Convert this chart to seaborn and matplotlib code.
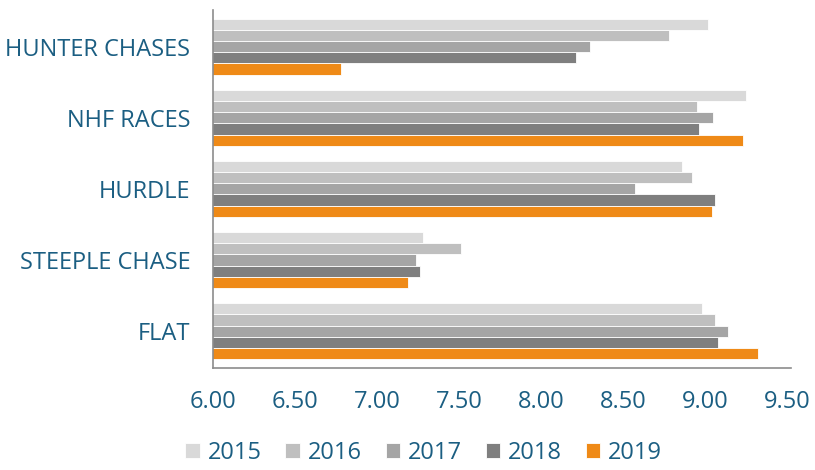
import matplotlib
matplotlib.use("Agg")
import matplotlib.pyplot as plt
import seaborn as sns
import pandas as pd

# データ
categories = ["HUNTER CHASES", "NHF RACES", "HURDLE", "STEEPLE CHASE", "FLAT"]
years = ["2015", "2016", "2017", "2018", "2019"]
values_2015 = [9.02, 9.25, 8.86, 7.28, 8.98]
values_2016 = [8.78, 8.95, 8.92, 7.51, 9.06]
values_2017 = [8.30, 9.05, 8.57, 7.24, 9.14]
values_2018 = [8.21, 8.96, 9.06, 7.26, 9.08]
values_2019 = [6.78, 9.23, 9.04, 7.19, 9.32]
colors = ["#d9d9d9", "#bfbfbf", "#a5a5a5", "#7f7f7f", "#ef8a17"]
xticks = [6.0, 6.5, 7.0, 7.5, 8.0, 8.5, 9.0, 9.5]

text_color = "#1b5e82"

# 縦長データフレームに変換
series = [values_2015, values_2016, values_2017, values_2018, values_2019]
rows = []
for year, vals in zip(years, series):
    for cat, v in zip(categories, vals):
        rows.append({"category": cat, "year": year, "value": v})
df = pd.DataFrame(rows)

sns.set_style("white")
plt.rcParams["font.family"] = ["Open Sans", "DejaVu Sans"]

fig = plt.figure(figsize=(8.15, 4.7), dpi=100)
ax = fig.add_axes([0.261, 0.217, 0.709, 0.762])
sns.barplot(data=df, y="category", x="value", hue="year", order=categories,
            hue_order=years, palette=colors, saturation=1, orient="h", width=0.78,
            edgecolor="white", linewidth=0.6, ax=ax, legend=True)

ax.set_xlim(6.0, 9.52)
ax.set_ylim(4.52, -0.52)
ax.set_xticks(xticks)
ax.set_xticklabels([f"{t:.2f}" for t in xticks])
ax.set_xlabel("")
ax.set_ylabel("")
ax.tick_params(axis="x", labelsize=17, colors=text_color, length=0, pad=16)
ax.tick_params(axis="y", labelsize=17, colors=text_color, length=0, pad=16)

for side in ["top", "right"]:
    ax.spines[side].set_visible(False)
for side in ["left", "bottom"]:
    ax.spines[side].set_color("#8c8c8c")
    ax.spines[side].set_linewidth(1.2)

handles, labels = ax.get_legend_handles_labels()
ax.legend_.remove()
leg = fig.legend(handles, labels, loc="center", ncol=5, frameon=False,
                 bbox_to_anchor=(0.52, 0.036), fontsize=17, handlelength=0.6,
                 handleheight=0.6, columnspacing=1.0, handletextpad=0.35,
                 borderpad=0.1)
for t in leg.get_texts():
    t.set_color(text_color)

plt.savefig("out.png", dpi=100)
plt.close("all")
